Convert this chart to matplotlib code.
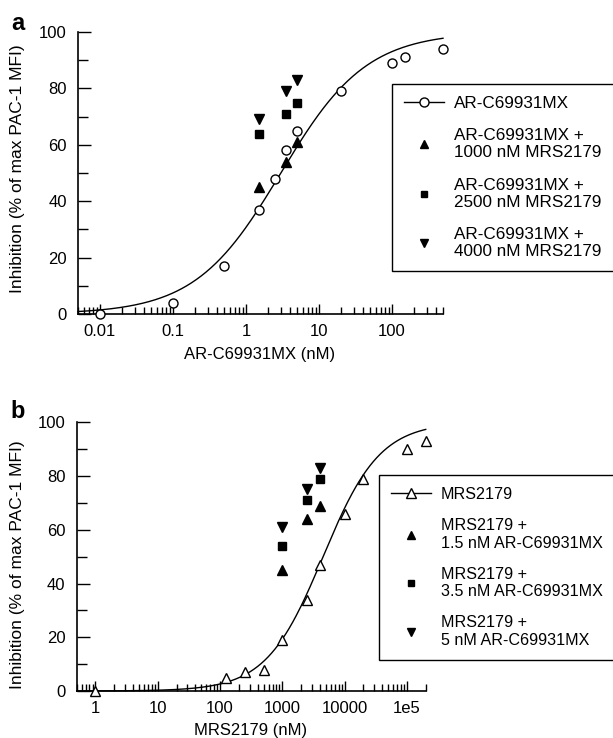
import numpy as np
import matplotlib
matplotlib.use('Agg')
import matplotlib.pyplot as plt
from matplotlib.lines import Line2D
from matplotlib.ticker import LogLocator, NullFormatter, FixedLocator

plt.rcParams['font.family'] = ['Liberation Sans', 'DejaVu Sans']

# panel a: AR-C69931MX dose response
a_conc = [0.01, 0.1, 0.5, 1.5, 2.5, 3.5, 5, 20, 100, 150, 500]
a_inh = [0, 4, 17, 37, 48, 58, 65, 79, 89, 91, 94]
a_combo_conc = [1.5, 3.5, 5]
a_mrs1000 = [45, 54, 61]
a_mrs2500 = [64, 71, 75]
a_mrs4000 = [69, 79, 83]
a_fit = dict(top=100, ic50=3.0, hill=0.74)

# panel b: MRS2179 dose response
b_conc = [1, 125, 250, 500, 1000, 2500, 4000, 10000, 20000, 100000, 200000]
b_inh = [0, 5, 7, 8, 19, 34, 47, 66, 79, 90, 93]
b_combo_conc = [1000, 2500, 4000]
b_ar15 = [45, 64, 69]
b_ar35 = [54, 71, 79]
b_ar5 = [61, 75, 83]
b_fit = dict(top=100, ic50=4500.0, hill=0.95)

a_ticks = [0.01, 0.1, 1, 10, 100]
a_ticklabels = ['0.01', '0.1', '1', '10', '100']
b_ticks = [1, 10, 100, 1000, 10000, 100000]
b_ticklabels = ['1', '10', '100', '1000', '10000', '1e5']

W, H = 613, 738
FS = 12


def hill(x, top, ic50, hill):
    return top / (1 + (ic50 / x) ** hill)


def style_ax(ax, xlim, ticks, ticklabels):
    ax.set_xscale('log')
    ax.set_xlim(*xlim)
    ax.set_ylim(0, 100)
    for s in ['top', 'right']:
        ax.spines[s].set_visible(False)
    for s in ['left', 'bottom']:
        ax.spines[s].set_linewidth(1.2)
    ax.set_xticks(ticks)
    ax.set_xticklabels(ticklabels)
    ax.xaxis.set_minor_locator(LogLocator(base=10, subs=np.arange(2, 10), numticks=20))
    ax.xaxis.set_minor_formatter(NullFormatter())
    ax.set_yticks([0, 20, 40, 60, 80, 100])
    ax.yaxis.set_minor_locator(FixedLocator([10, 30, 50, 70, 90]))
    ax.tick_params(axis='x', which='major', direction='in', length=7.5, width=1, pad=7, labelsize=FS)
    ax.tick_params(axis='x', which='minor', direction='in', length=5, width=1)
    ax.tick_params(axis='y', which='major', direction='in', length=9, width=1, pad=8, labelsize=FS)
    ax.tick_params(axis='y', which='minor', direction='in', length=7, width=1)


def add_legend(fig, handles, labels, left, top, fs):
    px = fs * 100 / 72
    leg = fig.legend(handles, labels, loc='upper left',
                     bbox_to_anchor=(left / W, 1 - top / H - 0.01, 0.5, 0.01),
                     mode='expand', borderaxespad=0, fontsize=fs,
                     fancybox=False, edgecolor='black', framealpha=1,
                     handlelength=40 / px, handletextpad=10.5 / px, borderpad=12 / px,
                     labelspacing=1.0)
    leg.get_frame().set_linewidth(1.0)
    for t in leg.get_texts():
        t.set_linespacing(1.2)
    return leg


fig = plt.figure(figsize=(W / 100, H / 100), dpi=100)

# ---- panel a
ax = fig.add_axes([78 / W, 1 - 314 / H, 365 / W, 282 / H])
style_ax(ax, (0.005, 500), a_ticks, a_ticklabels)
xs = np.logspace(np.log10(0.005), np.log10(500), 300)
ax.plot(xs, hill(xs, **a_fit), color='black', lw=1, clip_on=False)
ax.plot(a_conc, a_inh, 'o', ms=6.5, mfc='white', mec='black', mew=1, clip_on=False, zorder=3)
ax.plot(a_combo_conc, a_mrs1000, '^', ms=6.5, color='black', zorder=4)
ax.plot(a_combo_conc, a_mrs2500, 's', ms=5.5, color='black', zorder=4)
ax.plot(a_combo_conc, a_mrs4000, 'v', ms=6.5, color='black', zorder=4)
fig.text(18 / W, 1 - 169 / H, 'Inhibition (% of max PAC-1 MFI)', rotation=90,
         ha='center', va='center', fontsize=12.5)
fig.text(260 / W, 1 - 355 / H, 'AR-C69931MX (nM)', ha='center', va='center', fontsize=FS)
fig.text(18 / W, 1 - 24 / H, 'a', ha='center', va='center', fontsize=17, fontweight='bold')

handles = [Line2D([], [], color='black', lw=1, marker='o', ms=6.5, mfc='white', mec='black'),
           Line2D([], [], ls='none', marker='^', ms=6, color='black'),
           Line2D([], [], ls='none', marker='s', ms=5, color='black'),
           Line2D([], [], ls='none', marker='v', ms=6, color='black')]
labels = ['AR-C69931MX', 'AR-C69931MX +\n1000 nM MRS2179',
          'AR-C69931MX +\n2500 nM MRS2179', 'AR-C69931MX +\n4000 nM MRS2179']
add_legend(fig, handles, labels, 391.7, 84, 12.3)

# ---- panel b
ax = fig.add_axes([76.7 / W, 1 - 691 / H, 349 / W, 268.7 / H])
style_ax(ax, (0.5, 200000), b_ticks, b_ticklabels)
xs = np.logspace(np.log10(0.5), np.log10(200000), 300)
ax.plot(xs, hill(xs, **b_fit), color='black', lw=1, clip_on=False)
ax.plot(b_conc, b_inh, '^', ms=7, mfc='white', mec='black', mew=1, clip_on=False, zorder=3)
ax.plot(b_combo_conc, b_ar15, '^', ms=6.5, color='black', zorder=4)
ax.plot(b_combo_conc, b_ar35, 's', ms=5.5, color='black', zorder=4)
ax.plot(b_combo_conc, b_ar5, 'v', ms=6.5, color='black', zorder=4)
fig.text(18 / W, 1 - 565 / H, 'Inhibition (% of max PAC-1 MFI)', rotation=90,
         ha='center', va='center', fontsize=12.5)
fig.text(251 / W, 1 - 731 / H, 'MRS2179 (nM)', ha='center', va='center', fontsize=FS)
fig.text(18 / W, 1 - 411 / H, 'b', ha='center', va='center', fontsize=17, fontweight='bold')

handles = [Line2D([], [], color='black', lw=1, marker='^', ms=7, mfc='white', mec='black'),
           Line2D([], [], ls='none', marker='^', ms=6, color='black'),
           Line2D([], [], ls='none', marker='s', ms=5, color='black'),
           Line2D([], [], ls='none', marker='v', ms=6, color='black')]
labels = ['MRS2179', 'MRS2179 +\n1.5 nM AR-C69931MX',
          'MRS2179 +\n3.5 nM AR-C69931MX', 'MRS2179 +\n5 nM AR-C69931MX']
add_legend(fig, handles, labels, 378.5, 475, 11.6)

fig.savefig('out.png', dpi=100)
